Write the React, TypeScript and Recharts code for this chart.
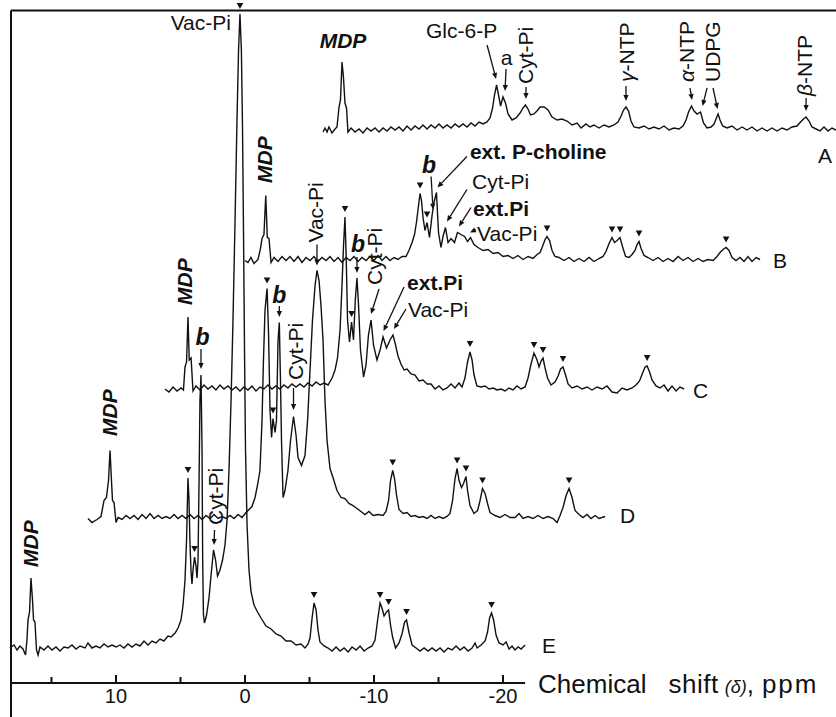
import React from "react";
import { ComposedChart, Line, Scatter, XAxis, YAxis, ReferenceLine } from "recharts";

type Pt = [number, number];

// 31P spectra, [chemical shift (ppm), signal height]; each trace on its own shift scale
const specE: Pt[] = [
  [18.22, 0], [17.9, 3], [17.67, -2], [17.44, 2], [17.21, -1], [17.01, -7], [16.9, 8], [16.82, 28],
  [16.7, 36], [16.59, 70], [16.47, 48], [16.39, 28], [16.28, 26], [16.16, -2], [16.04, -7], [15.89, 1],
  [15.58, -2], [15.27, 2], [14.96, -2], [14.65, 1], [14.34, -3], [14.03, 1], [13.72, 0], [13.41, 3],
  [13.1, -1], [12.79, 2], [12.4, 0], [12.17, 5], [11.86, 0], [11.55, 2], [11.24, 0], [10.93, 4],
  [10.62, 1], [10.31, 3], [9.99, 1], [9.69, 3], [9.38, 0], [9.07, 4], [8.76, 1], [8.45, 4],
  [8.14, 2], [7.83, 7], [7.52, 3], [7.21, 7], [6.9, 5], [6.59, 9], [6.28, 7], [5.97, 12],
  [5.73, 11], [5.42, 15], [5.19, 20], [4.96, 28], [4.8, 43], [4.65, 68], [4.53, 108], [4.42, 170],
  [4.34, 148], [4.26, 103], [4.18, 76], [4.11, 64], [4.03, 78], [3.91, 91], [3.8, 82], [3.72, 70],
  [3.64, 88], [3.56, 168], [3.49, 248], [3.41, 273], [3.33, 198], [3.28, 88], [3.22, 33], [3.14, 25],
  [2.98, 33], [2.79, 50], [2.63, 73], [2.44, 98], [2.28, 88], [2.13, 72], [1.94, 78], [1.74, 88],
  [1.55, 103], [1.39, 128], [1.24, 178], [1.08, 248], [0.93, 328], [0.77, 428], [0.62, 528], [0.5, 598],
  [0.39, 634], [0.28, 598], [0.19, 518], [0.11, 408], [0.03, 288], [-0.04, 198], [-0.16, 123], [-0.31, 78],
  [-0.47, 56], [-0.7, 43], [-0.93, 37], [-1.24, 30], [-1.63, 22], [-2.02, 19], [-2.41, 14], [-2.79, 12],
  [-3.18, 7], [-3.57, 7], [-3.96, 3], [-4.34, 4], [-4.65, 0], [-4.89, 4], [-5.04, 10], [-5.2, 30],
  [-5.35, 45], [-5.51, 38], [-5.66, 18], [-5.81, 6], [-6.13, 2], [-6.44, 0], [-6.75, -3], [-7.06, 1],
  [-7.37, -3], [-7.68, 0], [-7.99, -4], [-8.3, 1], [-8.61, -2], [-8.92, 2], [-9.23, -3], [-9.54, 0],
  [-9.85, 2], [-10.08, 8], [-10.28, 28], [-10.47, 45], [-10.62, 40], [-10.78, 32], [-10.97, 36], [-11.13, 38],
  [-11.28, 23], [-11.44, 11], [-11.67, 0], [-11.94, 5], [-12.17, 14], [-12.37, 26], [-12.52, 28], [-12.72, 15],
  [-12.95, 3], [-13.26, 0], [-13.57, -3], [-13.88, 0], [-14.19, -3], [-14.5, 0], [-14.81, -3], [-15.12, 0],
  [-15.43, -4], [-15.74, 0], [-16.05, -2], [-16.36, 2], [-16.67, -2], [-16.98, 1], [-17.29, -3], [-17.6, 0],
  [-17.83, 5], [-17.99, 0], [-18.3, 3], [-18.61, 7], [-18.8, 16], [-18.96, 30], [-19.11, 35], [-19.27, 28],
  [-19.46, 13], [-19.69, 5], [-20.0, 3], [-20.24, 6], [-20.47, -1], [-20.7, 2], [-20.93, -2], [-21.17, 1],
  [-21.4, -1], [-21.71, 3],
];

const specD: Pt[] = [
  [18.27, 0], [17.96, -4], [17.57, -1], [17.26, 2], [17.03, 18], [16.84, 21], [16.68, 38], [16.56, 68],
  [16.45, 38], [16.37, 18], [16.25, 16], [16.1, -4], [15.94, 1], [15.63, -1], [15.32, 3], [15.01, 0],
  [14.7, 3], [14.39, -1], [14.08, 4], [13.77, 0], [13.46, 5], [13.15, 0], [12.84, 3], [12.53, 0],
  [12.22, 2], [11.91, 0], [11.6, 4], [11.29, 0], [10.98, 3], [10.67, 0], [10.36, 4], [10.05, 0],
  [9.74, 3], [9.43, -1], [9.12, 3], [8.81, 0], [8.5, 4], [8.19, 0], [7.88, 2], [7.57, 0],
  [7.26, 3], [6.95, 0], [6.64, 4], [6.33, 1], [6.02, 6], [5.79, 9], [5.56, 12], [5.32, 21],
  [5.09, 36], [4.94, 48], [4.78, 98], [4.67, 158], [4.55, 208], [4.39, 230], [4.28, 188], [4.16, 108],
  [4.04, 81], [3.93, 100], [3.77, 86], [3.66, 98], [3.54, 178], [3.44, 196], [3.35, 138], [3.27, 78],
  [3.15, 21], [3.0, 28], [2.77, 48], [2.57, 78], [2.34, 102], [2.14, 83], [1.99, 61], [1.72, 53],
  [1.45, 63], [1.25, 98], [1.06, 148], [0.87, 198], [0.67, 233], [0.52, 248], [0.36, 238], [0.21, 213],
  [0.05, 178], [-0.1, 118], [-0.26, 78], [-0.49, 50], [-0.72, 41], [-1.03, 28], [-1.34, 21], [-1.65, 20],
  [-1.96, 15], [-2.27, 13], [-2.58, 10], [-2.89, 7], [-3.2, 4], [-3.51, 7], [-3.83, 3], [-4.21, 4],
  [-4.6, 3], [-4.83, 7], [-5.03, 18], [-5.18, 38], [-5.35, 48], [-5.49, 40], [-5.65, 23], [-5.84, 9],
  [-6.15, 5], [-6.46, 6], [-6.77, 2], [-7.08, 3], [-7.39, 1], [-7.7, 2], [-8.01, 0], [-8.32, 3],
  [-8.63, 0], [-8.94, 2], [-9.25, 0], [-9.56, 2], [-9.79, 5], [-9.99, 18], [-10.18, 40], [-10.34, 50],
  [-10.49, 38], [-10.68, 31], [-10.84, 35], [-11.03, 42], [-11.15, 28], [-11.34, 13], [-11.65, 5], [-11.93, 8],
  [-12.12, 18], [-12.31, 30], [-12.51, 25], [-12.7, 15], [-12.89, 6], [-13.28, 3], [-13.67, 1], [-14.06, 4],
  [-14.44, 1], [-14.83, 1], [-15.14, 5], [-15.45, 0], [-15.84, 2], [-16.23, 0], [-16.61, 3], [-17.0, 0],
  [-17.39, 2], [-17.78, 0], [-18.09, -4], [-18.32, 3], [-18.55, 11], [-18.79, 23], [-19.02, 30], [-19.25, 21],
  [-19.48, 8], [-19.79, 4], [-20.1, 1], [-20.41, 4], [-20.72, 0], [-21.04, 3], [-21.35, 0], [-21.81, 2],
];

const specC: Pt[] = [
  [18.4, 0], [18.09, -3], [17.78, 2], [17.47, -2], [17.16, 1], [16.97, -1], [16.85, 22], [16.73, 27],
  [16.62, 72], [16.52, 29], [16.38, 31], [16.23, -2], [16.0, 3], [15.69, -1], [15.38, 4], [15.07, 0],
  [14.76, 3], [14.45, -1], [14.14, 4], [13.83, 0], [13.52, 3], [13.21, -1], [12.9, 2], [12.59, -2],
  [12.28, 2], [11.97, -1], [11.66, 3], [11.35, -2], [11.04, 2], [10.73, 0], [10.42, 4], [10.11, 0],
  [9.8, 3], [9.49, 0], [9.18, 4], [8.87, 1], [8.56, 5], [8.25, 2], [7.94, 5], [7.63, 2],
  [7.32, 6], [7.0, 3], [6.69, 7], [6.38, 4], [6.07, 6], [5.76, 4], [5.45, 11], [5.22, 19],
  [5.03, 31], [4.83, 59], [4.68, 104], [4.56, 144], [4.45, 172], [4.35, 129], [4.25, 69], [4.1, 47],
  [3.94, 67], [3.79, 49], [3.65, 89], [3.52, 111], [3.4, 84], [3.25, 39], [3.01, 12], [2.82, 24],
  [2.63, 54], [2.43, 69], [2.24, 44], [1.97, 29], [1.73, 39], [1.5, 52], [1.23, 41], [0.96, 49],
  [0.73, 54], [0.53, 44], [0.34, 33], [0.11, 25], [-0.13, 19], [-0.36, 20], [-0.67, 15], [-0.98, 14],
  [-1.29, 8], [-1.6, 9], [-1.91, 5], [-2.22, 5], [-2.53, 0], [-2.84, 3], [-3.15, -1], [-3.46, 1],
  [-3.77, 5], [-4.08, 1], [-4.39, 6], [-4.62, 2], [-4.85, 11], [-5.05, 27], [-5.24, 37], [-5.4, 29],
  [-5.55, 14], [-5.78, 3], [-6.09, 2], [-6.41, 3], [-6.72, 0], [-7.03, 1], [-7.34, -1], [-7.65, 0],
  [-7.96, -2], [-8.26, 1], [-8.57, -1], [-8.89, 3], [-9.2, 0], [-9.51, 2], [-9.74, 11], [-9.97, 25],
  [-10.2, 36], [-10.44, 29], [-10.59, 22], [-10.75, 28], [-10.9, 31], [-11.06, 21], [-11.25, 11], [-11.52, 4],
  [-11.83, 7], [-12.07, 13], [-12.26, 20], [-12.45, 22], [-12.65, 14], [-12.84, 5], [-13.15, 1], [-13.54, 3],
  [-13.93, 0], [-14.31, 2], [-14.7, -1], [-15.09, 2], [-15.48, 0], [-15.86, 3], [-16.25, -3], [-16.64, -4],
  [-17.03, 1], [-17.41, -1], [-17.8, 1], [-18.11, 4], [-18.38, 8], [-18.62, 16], [-18.81, 22], [-18.97, 23],
  [-19.16, 17], [-19.35, 9], [-19.66, 3], [-19.97, 1], [-20.28, 4], [-20.59, -2], [-20.9, 3], [-21.21, -2],
  [-21.52, 2], [-21.83, 0],
];

const specB: Pt[] = [
  [18.3, -1], [18.07, -3], [17.84, 2], [17.6, -4], [17.29, 0], [17.1, 11], [16.98, 21], [16.83, 25],
  [16.69, 64], [16.57, 22], [16.44, 21], [16.28, -3], [16.05, 2], [15.74, -2], [15.43, 3], [15.12, -1],
  [14.81, 3], [14.5, -2], [14.19, 3], [13.88, -3], [13.57, 2], [13.26, -1], [12.95, 3], [12.64, -2],
  [12.33, 2], [12.02, -1], [11.71, 3], [11.4, -2], [11.09, 2], [10.78, -3], [10.47, 2], [10.16, -1],
  [9.85, 3], [9.54, -2], [9.23, 2], [8.92, -1], [8.61, 3], [8.3, -1], [7.99, 4], [7.68, -1],
  [7.37, 3], [7.06, -1], [6.75, 2], [6.44, 0], [6.13, 3], [5.82, 3], [5.59, 9], [5.35, 17],
  [5.16, 25], [5.01, 37], [4.85, 54], [4.73, 66], [4.62, 59], [4.5, 42], [4.35, 29], [4.19, 37],
  [4.0, 22], [3.8, 44], [3.65, 57], [3.46, 67], [3.3, 27], [3.11, 12], [2.95, 23], [2.76, 32],
  [2.56, 17], [2.33, 21], [2.06, 17], [1.83, 27], [1.56, 25], [1.28, 23], [1.05, 18], [0.82, 22],
  [0.55, 15], [0.24, 12], [-0.15, 9], [-0.54, 10], [-0.93, 6], [-1.31, 7], [-1.7, 3], [-2.09, 4],
  [-2.48, 1], [-2.86, 4], [-3.25, 0], [-3.64, 3], [-4.03, 1], [-4.34, 5], [-4.57, 7], [-4.76, 13],
  [-4.96, 20], [-5.11, 23], [-5.31, 19], [-5.5, 9], [-5.73, 3], [-6.04, 2], [-6.43, -1], [-6.82, 2],
  [-7.2, -2], [-7.59, 1], [-7.98, -2], [-8.37, 2], [-8.75, -2], [-9.14, 1], [-9.45, 3], [-9.68, 8],
  [-9.92, 16], [-10.15, 22], [-10.34, 17], [-10.54, 19], [-10.77, 22], [-10.96, 13], [-11.2, 3], [-11.47, 2],
  [-11.7, 5], [-11.93, 9], [-12.09, 15], [-12.24, 18], [-12.4, 11], [-12.63, 4], [-12.94, 2], [-13.33, -1],
  [-13.72, 2], [-14.1, -2], [-14.49, 1], [-14.88, -2], [-15.27, 3], [-15.65, -1], [-16.04, 2], [-16.43, -2],
  [-16.82, 1], [-17.2, -2], [-17.59, 0], [-17.98, -1], [-18.29, 3], [-18.52, 7], [-18.75, 10], [-18.99, 12],
  [-19.22, 9], [-19.45, 2], [-19.76, -1], [-20.07, 2], [-20.38, -2], [-20.69, 3], [-21.0, -2], [-21.31, 2],
  [-21.62, 0],
];

const specA: Pt[] = [
  [18.35, -2], [18.2, 2], [18.04, -2], [17.89, 3], [17.66, -3], [17.42, 1], [17.27, 3], [17.11, 23],
  [17.0, 30], [16.88, 68], [16.77, 53], [16.65, 27], [16.53, 22], [16.42, -2], [16.18, 2], [15.87, -2],
  [15.56, 1], [15.25, -3], [14.94, 2], [14.63, -1], [14.32, 2], [14.01, -2], [13.7, 2], [13.39, -1],
  [13.08, 3], [12.77, 0], [12.46, 3], [12.15, -1], [11.84, 4], [11.53, 0], [11.22, 4], [10.91, 1],
  [10.6, 5], [10.29, 1], [9.98, 5], [9.67, 2], [9.36, 6], [9.05, 2], [8.74, 5], [8.43, 2],
  [8.12, 6], [7.81, 3], [7.5, 6], [7.19, 3], [6.88, 7], [6.57, 4], [6.26, 8], [5.95, 6],
  [5.64, 8], [5.41, 12], [5.21, 22], [5.06, 35], [4.9, 45], [4.75, 35], [4.59, 24], [4.4, 33],
  [4.21, 27], [4.01, 16], [3.7, 10], [3.39, 12], [3.08, 17], [2.85, 22], [2.66, 25], [2.46, 21],
  [2.27, 15], [2.0, 16], [1.77, 19], [1.53, 23], [1.22, 23], [0.91, 20], [0.6, 13], [0.21, 10],
  [-0.17, 11], [-0.56, 9], [-0.95, 5], [-1.34, 7], [-1.65, 2], [-2.03, 6], [-2.34, 3], [-2.65, 5],
  [-3.04, 2], [-3.43, 5], [-3.82, 3], [-4.2, 5], [-4.51, 8], [-4.75, 14], [-4.94, 20], [-5.13, 23],
  [-5.33, 19], [-5.52, 9], [-5.75, 3], [-6.14, 2], [-6.53, 4], [-6.92, 1], [-7.3, 3], [-7.69, 1],
  [-8.08, 4], [-8.47, 0], [-8.85, 2], [-9.24, 1], [-9.55, 4], [-9.79, 10], [-9.98, 18], [-10.21, 24],
  [-10.41, 19], [-10.64, 16], [-10.91, 18], [-11.14, 7], [-11.41, 2], [-11.72, 3], [-11.96, 6], [-12.11, 11],
  [-12.27, 16], [-12.42, 10], [-12.62, 4], [-12.96, 2], [-13.35, 4], [-13.74, 0], [-14.13, 3], [-14.51, 0],
  [-14.9, 3], [-15.29, -1], [-15.68, 2], [-16.06, -1], [-16.45, 2], [-16.84, -1], [-17.23, 2], [-17.61, 0],
  [-18.0, 3], [-18.39, 4], [-18.66, 8], [-18.89, 11], [-19.09, 13], [-19.32, 9], [-19.55, 3], [-19.86, 1],
  [-20.17, -1], [-20.48, 3], [-20.79, -1], [-21.1, 2], [-21.41, 0],
];

// peaks flagged with a filled triangle
const marksE: Pt[] = [[4.42, 170], [3.91, 91], [0.39, 634], [-5.35, 45], [-10.47, 45], [-11.13, 38], [-12.52, 28], [-19.11, 35]];
const marksD: Pt[] = [[4.39, 230], [3.93, 100], [-5.35, 48], [-10.34, 50], [-11.03, 42], [-12.31, 30], [-19.02, 30]];
const marksC: Pt[] = [[4.45, 172], [3.94, 67], [-5.24, 37], [-10.2, 36], [-10.9, 31], [-12.45, 22], [-18.97, 23]];
const marksB: Pt[] = [[4.73, 66], [4.19, 37], [-5.11, 23], [-10.15, 22], [-10.77, 22], [-12.24, 18], [-18.99, 12]];
const marksA: Pt[] = [];

const traceNames = ["E", "D", "C", "B", "A"];
const axisTicks = [15, 10, 5, 0, -5, -10, -15, -20];
const majorTicks = [10, 0, -10, -20];

// stacking of the traces
const SHIFT_PPM = 6.1;
const SHIFT_Y = 129.5;
const BASE_Y = 35;

const W = 836;
const H = 717;
const AXIS_H = 34;
const FONT = "'Liberation Sans', Arial, Helvetica, sans-serif";

type Seg = { t: string; i?: boolean; size?: number; dx?: number; ls?: number };
type Note = {
  level: number;
  ppm: number;
  h: number;
  text: string | Seg[];
  dx: number;
  dy: number;
  rot?: boolean;
  anchor?: "start" | "middle" | "end";
  italic?: boolean;
  bold?: boolean;
  size?: number;
  arrows?: number[][];
};

const notes: Note[] = [
  { level: 0, ppm: 0.39, h: 634, text: "Vac-Pi", dx: -9, dy: 16, anchor: "end" },
  { level: 4, ppm: 16.88, h: 68, text: "MDP", dx: 1, dy: -14, anchor: "middle", italic: true, bold: true },
  { level: 4, ppm: 4.9, h: 45, text: "Glc-6-P", dx: -35, dy: -47, anchor: "middle", arrows: [[-9.5, -40, -0.5, -6]] },
  { level: 4, ppm: 4.4, h: 33, text: "a", dx: 3.5, dy: -32, anchor: "middle", arrows: [[3, -28, 2, -6]] },
  { level: 4, ppm: 2.66, h: 25, text: "Cyt-Pi", dx: 7.5, dy: -21, rot: true, arrows: [[0.5, -18, 0.5, -6]] },
  { level: 4, ppm: -5.13, h: 23, text: [{ t: "γ", i: true }, { t: "-NTP" }], dx: 8, dy: -25, rot: true, arrows: [[0, -21, 0, -6]] },
  { level: 4, ppm: -10.21, h: 24, text: [{ t: "α", i: true }, { t: "-NTP" }], dx: 2, dy: -24, rot: true, arrows: [[-1.5, -18, 0.5, -6]] },
  { level: 4, ppm: -10.91, h: 18, text: "UDPG", dx: 19.5, dy: -30, rot: true, arrows: [[6.5, -24, 2, -6], [12.5, -24, 17, -3]] },
  { level: 4, ppm: -19.09, h: 13, text: [{ t: "β", i: true }, { t: "-NTP" }], dx: 6, dy: -21, rot: true, arrows: [[0, -19, 0, -6]] },
  { level: 3, ppm: 16.69, h: 64, text: "MDP", dx: 6, dy: -12.5, rot: true, italic: true, bold: true },
  { level: 1, ppm: 0.52, h: 248, text: "Vac-Pi", dx: 6, dy: -28, rot: true, arrows: [[0, -26, 0, -5]] },
  { level: 2, ppm: 3.52, h: 111, text: "b", dx: 1, dy: -26, anchor: "middle", italic: true, bold: true, size: 23, arrows: [[0, -21, 0, -5]] },
  { level: 2, ppm: 2.43, h: 69, text: "Cyt-Pi", dx: 11, dy: -35, rot: true, arrows: [[8, -31, 0, -6]] },
  { level: 3, ppm: 3.46, h: 67, text: "ext. P-choline", dx: 33.5, dy: -34, bold: true, arrows: [[30.5, -36, 1, -5]] },
  { level: 3, ppm: 3.8, h: 44, text: "b", dx: -3, dy: -43, anchor: "middle", italic: true, bold: true, size: 23, arrows: [[-1, -39, 1, -6]] },
  { level: 3, ppm: 2.76, h: 32, text: "Cyt-Pi", dx: 26.5, dy: -39, arrows: [[21.5, -38, 1.5, -6]] },
  { level: 3, ppm: 1.83, h: 27, text: "ext.Pi", dx: 15.5, dy: -17, bold: true, arrows: [[13.5, -25, 1.5, -6]] },
  { level: 3, ppm: 0.82, h: 22, text: "Vac-Pi", dx: 6.5, dy: 3, arrows: [[5.5, -8, -0.5, -5]] },
  { level: 2, ppm: 1.5, h: 52, text: "ext.Pi", dx: 24, dy: -47, bold: true, arrows: [[21, -50, 0.5, -6]] },
  { level: 2, ppm: 0.73, h: 54, text: "Vac-Pi", dx: 15, dy: -18, arrows: [[13, -26, 1, -6]] },
  { level: 2, ppm: 16.62, h: 72, text: "MDP", dx: 4, dy: -12, rot: true, italic: true, bold: true },
  { level: 0, ppm: 3.41, h: 273, text: "b", dx: 1.5, dy: -30, anchor: "middle", italic: true, bold: true, size: 23, arrows: [[0, -26, 0, -6]] },
  { level: 1, ppm: 3.44, h: 196, text: "b", dx: 0, dy: -19.5, anchor: "middle", italic: true, bold: true, size: 23, arrows: [[0, -16.5, 0, -5.5]] },
  { level: 1, ppm: 2.34, h: 102, text: "Cyt-Pi", dx: 9.5, dy: -36.5, rot: true, arrows: [[0, -28.5, 0, -6.5]] },
  { level: 1, ppm: 16.56, h: 68, text: "MDP", dx: 7, dy: -14.5, rot: true, italic: true, bold: true },
  { level: 0, ppm: 2.44, h: 98, text: "Cyt-Pi", dx: 9.5, dy: -25, rot: true, arrows: [[1, -20, 0.5, -5]] },
  { level: 0, ppm: 16.59, h: 70, text: "MDP", dx: 7, dy: -11, rot: true, italic: true, bold: true },
];

// where each trace's letter sits, relative to the trace end
const letterOffsets: number[][] = [[17, 8], [15, 6.5], [9, 9], [13, 8.5], [-18, 33]];

const traces = [
  { name: traceNames[0], level: 0, pts: specE, marks: marksE },
  { name: traceNames[1], level: 1, pts: specD, marks: marksD },
  { name: traceNames[2], level: 2, pts: specC, marks: marksC },
  { name: traceNames[3], level: 3, pts: specB, marks: marksB },
  { name: traceNames[4], level: 4, pts: specA, marks: marksA },
];

const toPlot = (level: number, ppm: number, h: number) => ({
  x: ppm - SHIFT_PPM * level,
  y: h + BASE_Y + SHIFT_Y * level,
});

const lineData = traces.map((t) => t.pts.map(([p, h]) => toPlot(t.level, p, h)));
const markData = traces.flatMap((t) => t.marks.map(([p, h]) => toPlot(t.level, p, h)));

const letterNotes: Note[] = traces.map((t, i) => {
  const last = t.pts[t.pts.length - 1];
  return {
    level: t.level, ppm: last[0], h: last[1], text: t.name,
    dx: letterOffsets[i][0], dy: letterOffsets[i][1], size: 21,
  };
});

const axisEnd = specE[specE.length - 1][0];
const titleNote: Note = {
  level: 0, ppm: axisEnd, h: -BASE_Y, dx: 13, dy: 10, size: 26,
  text: [
    { t: "Chemical" },
    { t: "shift", dx: 22, ls: 0.5 },
    { t: "(δ)", i: true, size: 18, dx: 6 },
    { t: "," },
    { t: "ppm", dx: 8, ls: 2 },
  ],
};

const noteData = [...notes, ...letterNotes, titleNote].map((n) => ({ ...toPlot(n.level, n.ppm, n.h), note: n }));

const renderText = (t: string | Seg[]) =>
  typeof t === "string"
    ? t
    : t.map((s, i) => (
        <tspan key={i} fontStyle={s.i ? "italic" : undefined} fontSize={s.size} dx={s.dx} letterSpacing={s.ls}>
          {s.t}
        </tspan>
      ));

const Arrow = ({ x0, y0, x1, y1 }: { x0: number; y0: number; x1: number; y1: number }) => {
  const a = Math.atan2(y1 - y0, x1 - x0);
  const L = 6;
  const w = 2.6;
  const bx = x1 - L * Math.cos(a);
  const by = y1 - L * Math.sin(a);
  const pts = `${x1},${y1} ${bx - w * Math.sin(a)},${by + w * Math.cos(a)} ${bx + w * Math.sin(a)},${by - w * Math.cos(a)}`;
  return (
    <g>
      <line x1={x0} y1={y0} x2={bx} y2={by} stroke="#111" strokeWidth={1.3} />
      <polygon points={pts} fill="#111" />
    </g>
  );
};

const NoteShape = (props: any) => {
  const { cx, cy, payload } = props;
  const n: Note = payload.note;
  const tx = cx + n.dx;
  const ty = cy + n.dy;
  return (
    <g>
      {(n.arrows || []).map((a, i) => (
        <Arrow key={i} x0={cx + a[0]} y0={cy + a[1]} x1={cx + a[2]} y1={cy + a[3]} />
      ))}
      <text
        x={tx}
        y={ty}
        transform={n.rot ? `rotate(-90 ${tx} ${ty})` : undefined}
        textAnchor={n.anchor || "start"}
        fontFamily={FONT}
        fontSize={n.size || 21}
        fontStyle={n.italic ? "italic" : "normal"}
        fontWeight={n.bold ? 700 : 400}
        fill="#111"
      >
        {renderText(n.text)}
      </text>
    </g>
  );
};

const MarkShape = (props: any) => {
  const { cx, cy } = props;
  return <polygon points={`${cx - 3.3},${cy - 11} ${cx + 3.3},${cy - 11} ${cx},${cy - 5}`} fill="#111" />;
};

const AxisTick = (props: any) => {
  const { x, y, payload } = props;
  const major = majorTicks.includes(payload.value);
  return (
    <g>
      <line x1={x} x2={x} y1={y} y2={y - (major ? 8 : 6)} stroke="#111" strokeWidth={2} />
      {major && (
        <text x={x} y={y + 20} textAnchor="middle" fontFamily={FONT} fontSize={20} fill="#111">
          {String(payload.value)}
        </text>
      )}
    </g>
  );
};

export default function App() {
  const yMax = H - AXIS_H;
  const pxToPpm = (px: number) => 18.99 - px / 12.901;
  return (
    <div style={{ position: "absolute", left: 0, top: 0, background: "#fff" }}>
      <ComposedChart width={W} height={H} margin={{ top: 0, right: 0, bottom: 0, left: 0 }}>
        <XAxis
          dataKey="x"
          type="number"
          domain={[-45.81, 18.99]}
          reversed
          height={AXIS_H}
          ticks={axisTicks}
          interval={0}
          tick={<AxisTick />}
          tickLine={false}
          axisLine={false}
          tickSize={0}
          tickMargin={0}
        />
        <YAxis dataKey="y" type="number" domain={[0, yMax]} hide />
        <ReferenceLine
          segment={[{ x: pxToPpm(11), y: yMax - 10.5 }, { x: pxToPpm(11), y: -AXIS_H }]}
          stroke="#111"
          strokeWidth={2}
          ifOverflow="visible"
        />
        <ReferenceLine
          segment={[{ x: pxToPpm(11), y: yMax - 10.5 }, { x: -45.81, y: yMax - 10.5 }]}
          stroke="#111"
          strokeWidth={2}
          ifOverflow="visible"
        />
        <ReferenceLine
          segment={[{ x: pxToPpm(11), y: 0 }, { x: axisEnd, y: 0 }]}
          stroke="#111"
          strokeWidth={2}
          ifOverflow="visible"
        />
        {lineData.map((d, i) => (
          <Line
            key={traces[i].name}
            data={d}
            dataKey="y"
            type="linear"
            stroke="#111"
            strokeWidth={1.4}
            dot={false}
            activeDot={false}
            isAnimationActive={false}
          />
        ))}
        <Scatter data={markData} dataKey="y" shape={<MarkShape />} isAnimationActive={false} />
        <Scatter data={noteData} dataKey="y" shape={<NoteShape />} isAnimationActive={false} />
      </ComposedChart>
    </div>
  );
}
